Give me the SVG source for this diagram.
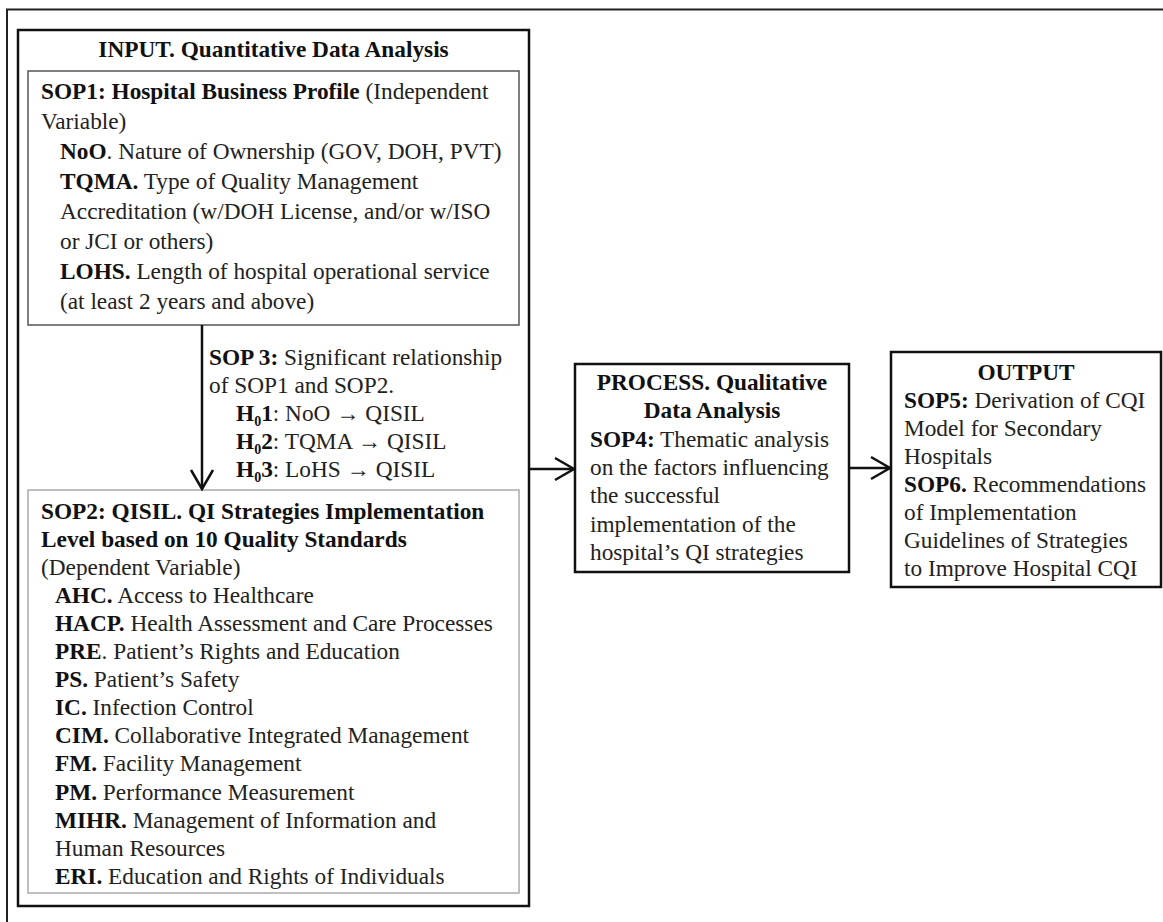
<svg xmlns="http://www.w3.org/2000/svg" width="1163" height="922" viewBox="0 0 1163 922">
<style>
text{font-family:"Liberation Serif","Times New Roman",serif;font-size:23.3px;fill:#222}
.b{font-weight:bold;fill:#111}
.c{text-anchor:middle}
.sub{font-size:14px}
.frame{fill:none;stroke:#222;stroke-width:2}
.big{fill:#fff;stroke:#111;stroke-width:2.5}
.sop1{fill:#fff;stroke:#555;stroke-width:1.5}
.sop2{fill:#fff;stroke:#aaa;stroke-width:1.5}
.conn{stroke:#111;stroke-width:2.5;fill:none}
</style>
<defs>
<marker id="arr" viewBox="0 0 24 26" markerUnits="userSpaceOnUse" markerWidth="24" markerHeight="26" refX="21" refY="13" orient="auto">
<path d="M2,2 L21,13 L2,24" fill="none" stroke="#111" stroke-width="2.5"/>
</marker>
</defs>
<rect width="1163" height="922" fill="#fff"/>
<rect class="frame" x="7" y="9.5" width="1200" height="960"/>

<g id="input">
<rect class="big" x="18" y="30" width="511" height="876"/>
<text class="b c" x="273.5" y="56.5">INPUT. Quantitative Data Analysis</text>
</g>

<g id="sop1">
<rect class="sop1" x="28" y="71" width="491" height="254"/>
<text x="41" y="99"><tspan class="b">SOP1: Hospital Business Profile</tspan> (Independent</text>
<text x="41" y="129">Variable)</text>
<text x="60" y="159"><tspan class="b">NoO</tspan>. Nature of Ownership (GOV, DOH, PVT)</text>
<text x="60" y="189"><tspan class="b">TQMA.</tspan> Type of Quality Management</text>
<text x="60" y="219">Accreditation (w/DOH License, and/or w/ISO</text>
<text x="60" y="249">or JCI or others)</text>
<text x="60" y="279"><tspan class="b">LOHS.</tspan> Length of hospital operational service</text>
<text x="60" y="309">(at least 2 years and above)</text>
</g>

<g id="sop3">
<text x="209" y="365"><tspan class="b">SOP 3:</tspan> Significant relationship</text>
<text x="209" y="393">of SOP1 and SOP2.</text>
<text x="236" y="421"><tspan class="b">H<tspan class="sub" dy="5">0</tspan><tspan dy="-5">1</tspan></tspan>: NoO → QISIL</text>
<text x="236" y="449"><tspan class="b">H<tspan class="sub" dy="5">0</tspan><tspan dy="-5">2</tspan></tspan>: TQMA → QISIL</text>
<text x="236" y="477"><tspan class="b">H<tspan class="sub" dy="5">0</tspan><tspan dy="-5">3</tspan></tspan>: LoHS → QISIL</text>
</g>

<g id="sop2">
<rect class="sop2" x="28" y="490" width="491" height="403"/>
<text class="b" x="41" y="518.5">SOP2: QISIL. QI Strategies Implementation</text>
<text class="b" x="41" y="546.6">Level based on 10 Quality Standards</text>
<text x="41" y="574.7">(Dependent Variable)</text>
<text x="55" y="602.8"><tspan class="b">AHC.</tspan> Access to Healthcare</text>
<text x="55" y="630.9"><tspan class="b">HACP.</tspan> Health Assessment and Care Processes</text>
<text x="55" y="659"><tspan class="b">PRE</tspan>. Patient’s Rights and Education</text>
<text x="55" y="687.1"><tspan class="b">PS.</tspan> Patient’s Safety</text>
<text x="55" y="715.2"><tspan class="b">IC.</tspan> Infection Control</text>
<text x="55" y="743.3"><tspan class="b">CIM.</tspan> Collaborative Integrated Management</text>
<text x="55" y="771.4"><tspan class="b">FM.</tspan> Facility Management</text>
<text x="55" y="799.5"><tspan class="b">PM.</tspan> Performance Measurement</text>
<text x="55" y="827.6"><tspan class="b">MIHR.</tspan> Management of Information and</text>
<text x="55" y="855.7">Human Resources</text>
<text x="55" y="883.8"><tspan class="b">ERI.</tspan> Education and Rights of Individuals</text>
</g>

<g id="process">
<rect class="big" x="575" y="364" width="274" height="208"/>
<text class="b c" x="712" y="390">PROCESS. Qualitative</text>
<text class="b c" x="712" y="418.3">Data Analysis</text>
<text x="590" y="446.6"><tspan class="b">SOP4:</tspan> Thematic analysis</text>
<text x="590" y="474.9">on the factors influencing</text>
<text x="590" y="503.2">the successful</text>
<text x="590" y="531.5">implementation of the</text>
<text x="590" y="559.8">hospital’s QI strategies</text>
</g>

<g id="output">
<rect class="big" x="891" y="352" width="270" height="235"/>
<text class="b c" x="1026" y="380">OUTPUT</text>
<text x="904" y="408"><tspan class="b">SOP5:</tspan> Derivation of CQI</text>
<text x="904" y="436">Model for Secondary</text>
<text x="904" y="464">Hospitals</text>
<text x="904" y="492"><tspan class="b">SOP6.</tspan> Recommendations</text>
<text x="904" y="520">of Implementation</text>
<text x="904" y="548">Guidelines of Strategies</text>
<text x="904" y="576">to Improve Hospital CQI</text>
</g>

<g id="connectors">
<line class="conn" x1="202" y1="325" x2="202" y2="489" marker-end="url(#arr)"/>
<line class="conn" x1="530" y1="469" x2="574" y2="469" marker-end="url(#arr)"/>
<line class="conn" x1="850" y1="468" x2="890" y2="468" marker-end="url(#arr)"/>
</g>
</svg>
